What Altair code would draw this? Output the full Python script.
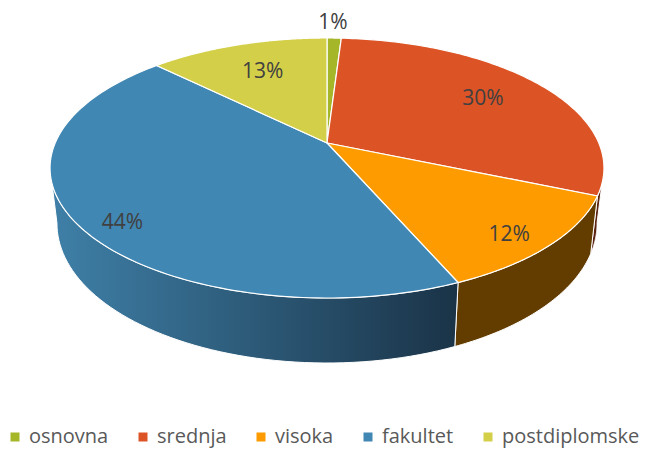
import math
import altair as alt
import pandas as pd

categories = ["osnovna", "srednja", "visoka", "fakultet", "postdiplomske"]
values = [1.0, 30.4, 12.1, 43.9, 12.6]
labels = ["1%", "30%", "12%", "44%", "13%"]
colors = ["#a5b629", "#dc5426", "#fd9b00", "#4087b3", "#d4cf48"]
wall_colors = ["#4a5210", "#5a2410", "#633d00", "#1b364a", "#5f5c20"]

W, H = 639, 442
OX, OY = 8, 8
CX, CY, A, B, K = 327.0, 143.0, 271.8, -97.7, 0.1923


def top(deg, r=1.0):
    t = math.radians(deg)
    u, v = math.sin(t) * r, math.cos(t) * r
    w = 1 + K * v
    return CX + A * u / w, (CY + B * v) / w


def bottom(deg):
    x, y = top(deg)
    v = math.cos(math.radians(deg))
    return CX + (x - CX) * 0.975, y + 53 - 12 * v


cum = [0.0]
for val in values:
    cum.append(cum[-1] + val)
total = cum[-1]
starts = [c / total * 360 for c in cum[:-1]]
ends = [c / total * 360 for c in cum[1:]]

x_scale = alt.Scale(domain=[OX, OX + W], nice=False, zero=False)
y_scale = alt.Scale(domain=[OY + H, OY], nice=False, zero=False)


def shape(points, fill, stroke="#ffffff", sw=1.2):
    df = pd.DataFrame([{"x": p[0], "y": p[1], "i": i} for i, p in enumerate(points)])
    return alt.Chart(df).mark_line(fill=fill, stroke=stroke, strokeWidth=sw, interpolate="linear-closed").encode(
        x=alt.X("x:Q", scale=x_scale, axis=None),
        y=alt.Y("y:Q", scale=y_scale, axis=None),
        order="i:Q",
    )


def steps(a, b, n=60):
    return [a + (b - a) * j / n for j in range(n + 1)]


layers = []
# side walls (visible only between the right and left extremes of the rim)
wall_from, wall_to = 101.0, 259.0
for s, e, wc, cat in zip(starts, ends, wall_colors, categories):
    a, b = max(s, wall_from), min(e, wall_to)
    if a >= b:
        continue
    ang = steps(a, b)
    pts = [top(d) for d in ang] + [bottom(d) for d in reversed(ang)]
    fill = wc
    if cat == "fakultet":
        fill = alt.Gradient(
            gradient="linear", x1=0, x2=1, y1=0, y2=0,
            stops=[alt.GradientStop(color="#3f80a8", offset=0),
                   alt.GradientStop(color="#1a3347", offset=1)],
        )
    layers.append(shape(pts, fill, sw=1.0))

# top faces
for s, e, c in zip(starts, ends, colors):
    pts = [(CX, CY)] + [top(d) for d in steps(s, e, 120)]
    layers.append(shape(pts, c))

# data labels
label_r = [1.17, 0.722, 0.873, 0.878, 0.69]
label_shift = [-0.5, 0.2, 2.9, -5.8, 0.0]
rows = []
for s, e, lab, r, sh in zip(starts, ends, labels, label_r, label_shift):
    x, y = top((s + e) / 2 + sh, r)
    rows.append({"x": x, "y": y, "t": lab})
layers.append(
    alt.Chart(pd.DataFrame(rows)).mark_text(font="Open Sans", fontSize=21, color="#404040", baseline="middle").encode(
        x=alt.X("x:Q", scale=x_scale, axis=None),
        y=alt.Y("y:Q", scale=y_scale, axis=None),
        text="t:N",
    )
)

# legend
legend_df = pd.DataFrame({"kategorija": categories})
layers.append(
    alt.Chart(legend_df).mark_point(opacity=0, filled=True).encode(
        x=alt.value(0), y=alt.value(0),
        color=alt.Color(
            "kategorija:N",
            scale=alt.Scale(domain=categories, range=colors),
            legend=alt.Legend(
                title=None, orient="none", direction="horizontal", columns=5,
                legendX=-3, legendY=419, symbolType="square", symbolSize=81,
                symbolOpacity=1, labelFont="Open Sans", labelFontSize=20,
                labelColor="#595959", columnPadding=24, labelOffset=4,
                labelLimit=300, symbolStrokeWidth=0,
            ),
        ),
    )
)

chart = alt.layer(*layers).properties(
    width=W, height=H, padding=0, autosize=alt.AutoSizeParams(type="none")
).configure_view(stroke=None)

chart.save("out.html", embed_options={"renderer": "svg", "actions": False})
